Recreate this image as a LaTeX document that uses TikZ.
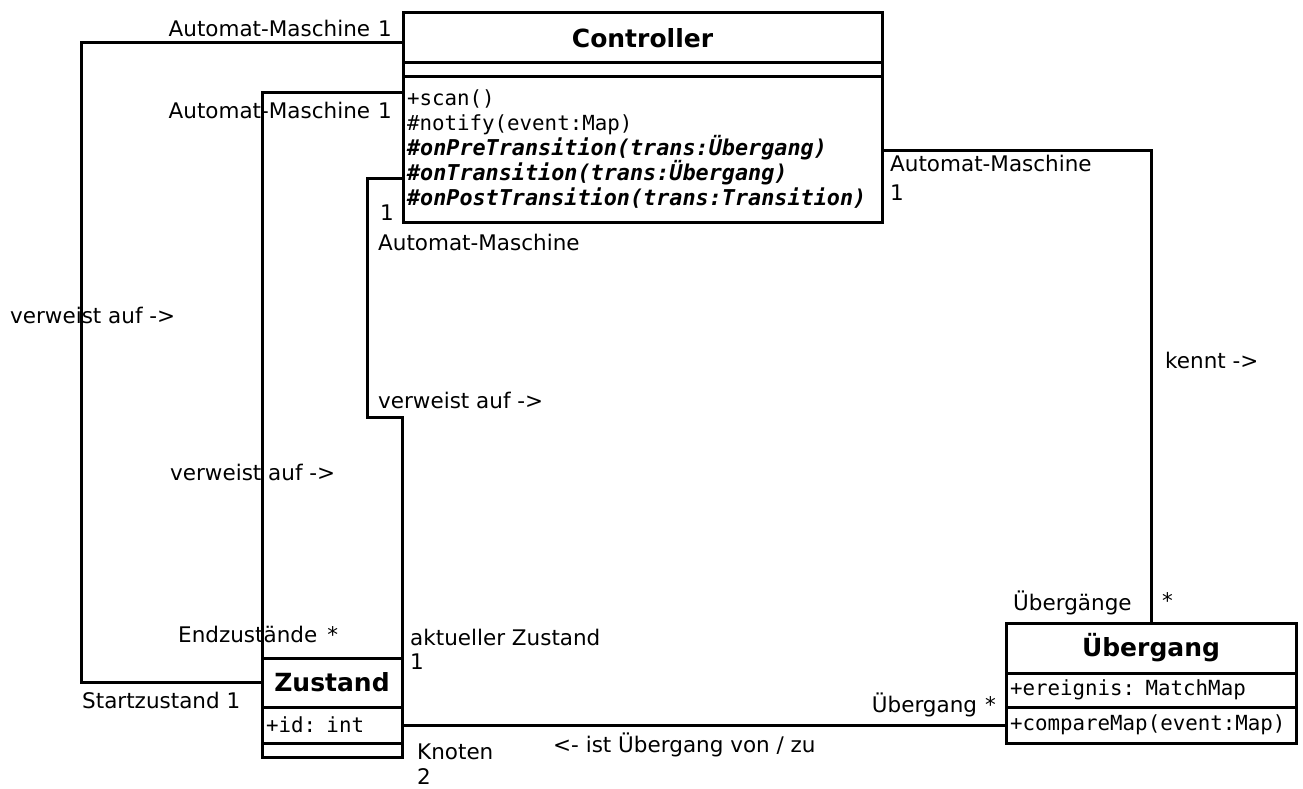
\documentclass[tikz,border=0pt]{standalone}
\usepackage{fontspec}
\setmainfont{DejaVu Sans}
\setmonofont{DejaVu Sans Mono}
\usetikzlibrary{positioning}
\tikzset{
  klasse/.style={draw, line width=3pt, outer sep=0pt, inner sep=0pt, font=\fontsize{25}{30}\selectfont\bfseries},
  fach/.style={draw, line width=3pt, outer sep=0pt, inner xsep=4pt, inner ysep=0pt, align=left, font=\ttfamily\fontsize{20.8}{25}\selectfont},
  leer/.style={draw, line width=3pt, outer sep=0pt, inner sep=0pt},
  rolle/.style={inner sep=0pt, font=\fontsize{21.5}{25}\selectfont},
  verb/.style={line width=3pt},
}
\newcommand{\abstrakt}[1]{{\bfseries\itshape\fontsize{21.8}{25}\selectfont #1}}
\begin{document}
\begin{tikzpicture}[x=1pt,y=-1pt]
				\useasboundingbox (0,0) rectangle (1303,789);
				% Klassen
				\node[klasse, anchor=north west, minimum width=479pt, minimum height=50pt] (ctrl) at (403,13) {Controller};
				\node[leer, minimum width=479pt, minimum height=14pt, below=0pt of ctrl] (ctrlattr) {};
				\node[fach, text width=471pt, minimum height=145pt, below=0pt of ctrlattr] (ctrlops) {+scan()\\\#notify(event:Map)\\\abstrakt{\#onPreTransition(trans:Übergang)}\\\abstrakt{\#onTransition(trans:Übergang)}\\\abstrakt{\#onPostTransition(trans:Transition)}};
				\node[klasse, anchor=north west, minimum width=140pt, minimum height=49pt] (zust) at (262,658) {Zustand};
				\node[fach, text width=132pt, minimum height=36pt, below=0pt of zust] (zattr) {+id: int};
				\node[leer, minimum width=140pt, minimum height=14pt, below=0pt of zattr] (zops) {};
				\node[klasse, anchor=north west, minimum width=290pt, minimum height=50pt] (ueb) at (1006,623) {Übergang};
				\node[fach, text width=282pt, minimum height=34pt, below=0pt of ueb] (uattr) {+ereignis: MatchMap};
				\node[fach, text width=282pt, minimum height=36pt, below=0pt of uattr] (uops) {+compareMap(event:Map)};
				% Assoziationen
				\coordinate (knick) at (367,417);
				\draw[verb] ([yshift=-5pt]ctrl.west) -- ++(-322,0) |- (zust.west);
				\draw[verb] ([yshift=-16pt]ctrlops.north west) -| (zust.north west);
				\draw[verb] ([yshift=-101pt]ctrlops.north west) -| (knick) -| (zust.north east);
				\draw[verb] ([yshift=-73pt]ctrlops.north east) -| (ueb.north);
				\draw[verb] (zattr.east) -- (uops.west);
				% Rollen und Multiplizitaeten
				\node[rolle, anchor=east] (r1) at (392,28) {Automat-Maschine\hspace{8pt}1};
				\node[rolle, anchor=east] (r2) at (392,110) {Automat-Maschine\hspace{8pt}1};
				\node[rolle, anchor=west] (r3) at (10,315) {verweist auf ->};
				\node[rolle, anchor=west] (r4) at (170,472) {verweist auf ->};
				\node[rolle, anchor=west] (r5) at (178,634) {Endzustände\hspace{10pt}*};
				\node[rolle, anchor=west] (r6) at (82,700) {Startzustand 1};
				\node[rolle, anchor=west] (r7) at (380,213) {1};
				\node[rolle, anchor=west] (r8) at (378,242) {Automat-Maschine};
				\node[rolle, anchor=west] (r9) at (378,400) {verweist auf ->};
				\node[rolle, anchor=west] (r10) at (410,637) {aktueller Zustand};
				\node[rolle, anchor=west] (r11) at (410,662) {1};
				\node[rolle, anchor=west] (r12) at (417,752) {Knoten};
				\node[rolle, anchor=west] (r13) at (417,777) {2};
				\node[rolle, anchor=west] (r14) at (553,745) {<- ist Übergang von / zu};
				\node[rolle, anchor=east] (r15) at (996,705) {Übergang\hspace{8pt}*};
				\node[rolle, anchor=west] (r16) at (1013,603) {Übergänge};
				\node[rolle, anchor=west] (r17) at (1162,601) {*};
				\node[rolle, anchor=west] (r18) at (890,163) {Automat-Maschine};
				\node[rolle, anchor=west] (r19) at (890,193) {1};
				\node[rolle, anchor=west] (r20) at (1165,360) {kennt ->};
\end{tikzpicture}
\end{document}
